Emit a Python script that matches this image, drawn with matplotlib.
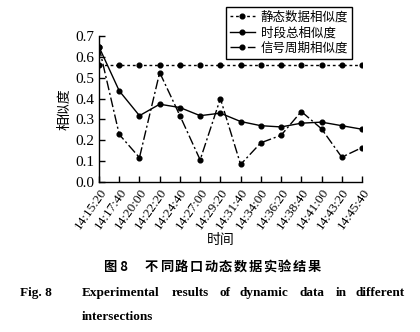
import matplotlib
matplotlib.use("Agg")
import matplotlib.pyplot as plt

# 数据
times = ["14:15:20", "14:17:40", "14:20:00", "14:22:20", "14:24:40", "14:27:00", "14:29:20",
         "14:31:40", "14:34:00", "14:36:20", "14:38:40", "14:41:00", "14:43:20", "14:45:40"]
static_sim = [0.56] * 14
total_sim = [0.648, 0.437, 0.318, 0.373, 0.357, 0.318, 0.330, 0.290, 0.270, 0.264, 0.282, 0.287, 0.270, 0.253]
signal_sim = [0.648, 0.228, 0.117, 0.525, 0.318, 0.106, 0.400, 0.084, 0.188, 0.224, 0.338, 0.255, 0.119, 0.165]

labels = ["静态数据相似度", "时段总相似度", "信号周期相似度"]

serif = ["Liberation Serif", "DejaVu Serif"]
cjk = ["Noto Sans CJK SC", "DejaVu Sans"]

fig = plt.figure(figsize=(4.2, 3.32), dpi=100)
ax = fig.add_axes([99 / 420, 1 - 182 / 332, 263 / 420, 146 / 332])

x = list(range(len(times)))
l1, = ax.plot(x, static_sim, linestyle=(0, (2, 2)), color="black", lw=1.0,
              marker="o", markersize=3.4)
l2, = ax.plot(x, total_sim, linestyle="-", color="black", lw=1.0,
              marker="o", markersize=3.4)
l3, = ax.plot(x, signal_sim, linestyle=(0, (7, 2, 1.5, 2)), color="black", lw=1.0,
              marker="o", markersize=3.4)

ax.set_xlim(0, 13)
ax.set_ylim(0, 0.7)
ax.set_yticks([0.0, 0.1, 0.2, 0.3, 0.4, 0.5, 0.6, 0.7])
ax.set_yticklabels(["0.0", "0.1", "0.2", "0.3", "0.4", "0.5", "0.6", "0.7"], family=serif, fontsize=11)
ax.set_xticks(x)
ax.set_xticklabels(times, rotation=55, ha="right", rotation_mode="anchor", family=serif, fontsize=9.5)
ax.tick_params(direction="in", length=4, width=1, colors="black", pad=3)
ax.spines["top"].set_visible(False)
ax.spines["right"].set_visible(False)
ax.spines["left"].set_linewidth(1)
ax.spines["bottom"].set_linewidth(1)
ax.set_facecolor("none")

ax.set_ylabel("相似度", family=cjk, fontsize=10, labelpad=3)
fig.text(221 / 420, 1 - 240 / 332, "时间", family=cjk, fontsize=10, ha="center", va="center")

leg = fig.legend([l1, l2, l3], labels, loc="upper right",
                 bbox_to_anchor=(352 / 420, 1 - 7 / 332),
                 prop={"family": cjk, "size": 9}, frameon=True, fancybox=False,
                 edgecolor="black", framealpha=1, handlelength=2.0, handletextpad=0.5,
                 borderpad=0.3, labelspacing=0.2, borderaxespad=0)
leg.get_frame().set_linewidth(1)

# 图题
fig.text(104 / 420, 1 - 267 / 332, "图 8", family=cjk,
         fontsize=9.5, fontweight="bold", ha="left", va="center")
title_cn = "不同路口动态数据实验结果"
for i, ch in enumerate(title_cn):
    fig.text((145 + 14.8 * i) / 420, 1 - 267 / 332, ch, family=cjk,
             fontsize=9.5, fontweight="bold", ha="left", va="center")
fig.text(20 / 420, 1 - 293 / 332, "Fig. 8", family=serif, fontsize=9.5,
         fontweight="bold", ha="left", va="center")
words = ["Experimental", "results", "of", "dynamic", "data", "in", "different"]
starts = [82, 172, 219, 240, 300, 336, 356]
for w, s in zip(words, starts):
    fig.text(s / 420, 1 - 293 / 332, w, family=serif, fontsize=9.5,
             fontweight="bold", ha="left", va="center")
fig.text(82 / 420, 1 - 317 / 332, "intersections", family=serif, fontsize=9.5,
         fontweight="bold", ha="left", va="center")

fig.savefig("out.png", dpi=100)
